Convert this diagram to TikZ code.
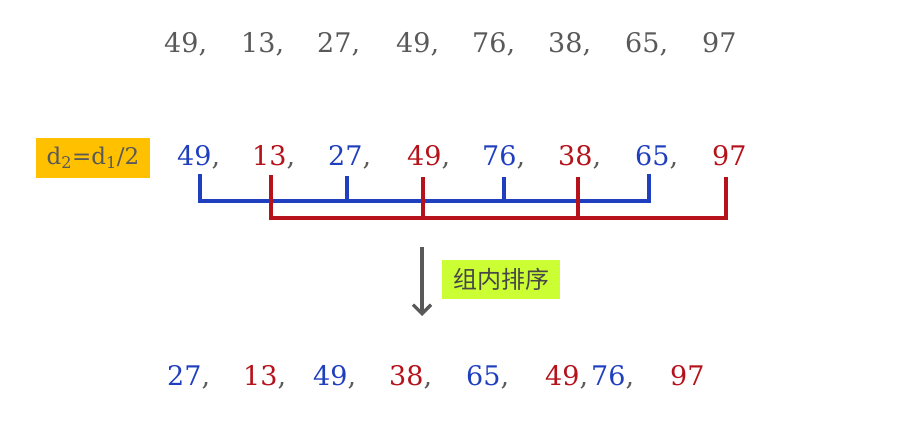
\documentclass[tikz,border=0pt]{standalone}
\usepackage{fontspec}
\setmainfont{DejaVu Serif}
\newfontfamily\cjkfont{Noto Sans CJK SC}
\usetikzlibrary{arrows.meta}
\definecolor{numgray}{HTML}{595959}
\definecolor{nblue}{HTML}{1F3FBF}
\definecolor{nred}{HTML}{B5121B}
\definecolor{boxorange}{HTML}{FFC000}
\definecolor{boxgreen}{HTML}{CCFF33}
\tikzset{
  num/.style={anchor=base west, inner sep=0pt, text=numgray, font=\fontsize{27}{30}\selectfont},
  bl/.style={draw=nblue, line width=3.3pt},
  rd/.style={draw=nred, line width=3.3pt},
  lbl/.style={inner sep=0pt, minimum height=40pt},
}
\newcommand{\B}[1]{\textcolor{nblue}{#1}}
\newcommand{\R}[1]{\textcolor{nred}{#1}}
\begin{document}
\begin{tikzpicture}[x=1pt,y=-1pt]
\useasboundingbox (0,0) rectangle (909,425);
\fill[white] (0,0) rectangle (909,425);
% row 1
\node[num] (a1) at (164,52.7) {49,};
\node[num] (a2) at (241,52.7) {13,};
\node[num] (a3) at (317,52.7) {27,};
\node[num] (a4) at (396,52.7) {49,};
\node[num] (a5) at (472,52.7) {76,};
\node[num] (a6) at (548,52.7) {38,};
\node[num] (a7) at (625,52.7) {65,};
\node[num] (a8) at (702,52.7) {97};
% label box
\node[lbl, fill=boxorange, minimum width=114pt, text=numgray, font=\fontsize{23}{26}\selectfont] (d) at (93,158) {d\textsubscript{2}=d\textsubscript{1}/2};
% row 2
\node[num] (b1) at (177,165) {\B{49},};
\node[num] (b2) at (252,165) {\R{13},};
\node[num] (b3) at (328,165) {\B{27},};
\node[num] (b4) at (407,165) {\R{49},};
\node[num] (b5) at (482,165) {\B{76},};
\node[num] (b6) at (558,165) {\R{38},};
\node[num] (b7) at (635,165) {\B{65},};
\node[num] (b8) at (712,165) {\R{97}};
% tick coordinates
\coordinate (t1) at (200,176);
\coordinate (t2) at (271,177);
\coordinate (t3) at (347,176);
\coordinate (t4) at (423,177);
\coordinate (t5) at (504,177);
\coordinate (t6) at (578,177);
\coordinate (t7) at (649,176);
\coordinate (t8) at (726,179);
% blue group
\draw[bl, line cap=rect] (t1) -- (t1 |- 0,201) -- (t7 |- 0,201) -- (t7);
\draw[bl] (t3) -- (t3 |- 0,201);
\draw[bl] (t5) -- (t5 |- 0,201);
% red group
\draw[rd, line cap=rect] (t2) -- (t2 |- 0,218) -- (t8 |- 0,218) -- (t8);
\draw[rd] (t4) -- (t4 |- 0,218);
\draw[rd] (t6) -- (t6 |- 0,218);
% arrow
\coordinate (ar1) at (422,247);
\coordinate (ar2) at (422,316);
\draw[numgray, line width=3.2pt, -{Straight Barb[length=9pt, width=18pt, line width=3.2pt]}] (ar1) -- (ar2);
\node[lbl, fill=boxgreen, minimum width=118pt, minimum height=39pt, text=numgray!80!black, font=\cjkfont\fontsize{24}{26}\selectfont] (g) at (501,279.5) {组内排序};
% row 3
\node[num] (c1) at (167,385) {\B{27},};
\node[num] (c2) at (243,385) {\R{13},};
\node[num] (c3) at (313,385) {\B{49},};
\node[num] (c4) at (389,385) {\R{38},};
\node[num] (c5) at (466,385) {\B{65},};
\node[num] (c6) at (545,385) {\R{49},};
\node[num] (c7) at (591,385) {\B{76},};
\node[num] (c8) at (670,385) {\R{97}};
\end{tikzpicture}
\end{document}
